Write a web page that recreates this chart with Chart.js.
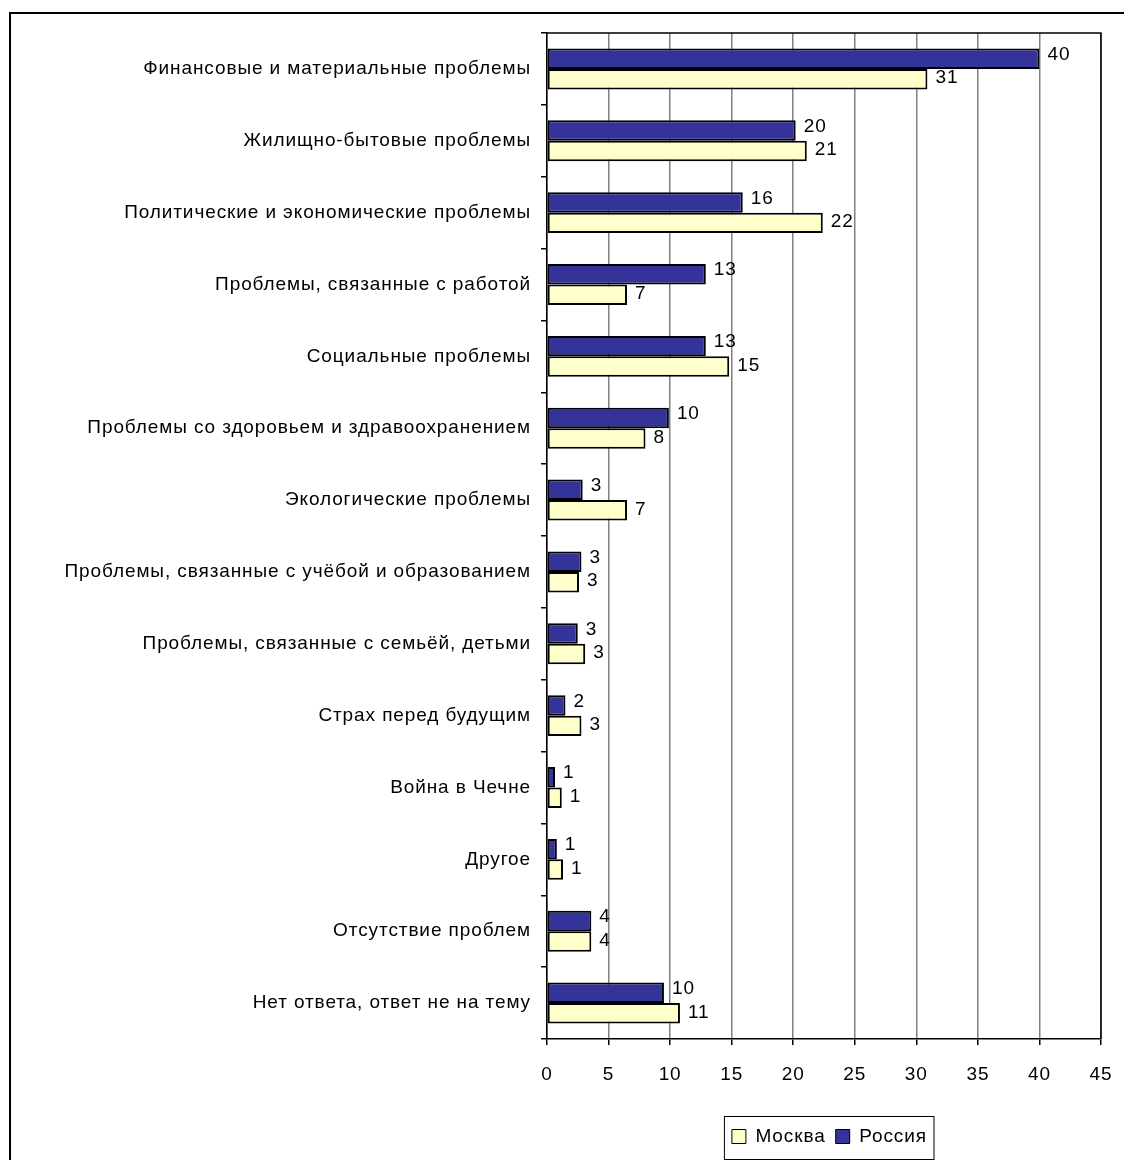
<!DOCTYPE html>
<html>
<head>
<meta charset="utf-8">
<script src="https://cdn.jsdelivr.net/npm/chart.js@4"></script>
<style>
    html, body { margin: 0; padding: 0; background: #fff; }
    #wrap { position: relative; width: 1124px; height: 1160px; }
</style>
</head>
<body>
<div id="wrap"><canvas id="chart" width="1124" height="1160"></canvas></div>
<script>
// DATOS
const categories = [
    "Финансовые и материальные проблемы",
    "Жилищно-бытовые проблемы",
    "Политические и экономические проблемы",
    "Проблемы, связанные с работой",
    "Социальные проблемы",
    "Проблемы со здоровьем и здравоохранением",
    "Экологические проблемы",
    "Проблемы, связанные с учёбой и образованием",
    "Проблемы, связанные с семьёй, детьми",
    "Страх перед будущим",
    "Война в Чечне",
    "Другое",
    "Отсутствие проблем",
    "Нет ответа, ответ не на тему"
];
const russia = [40.0, 20.2, 15.9, 12.9, 12.9, 9.9, 2.9, 2.8, 2.5, 1.5, 0.65, 0.8, 3.6, 9.5];
const moscow = [30.9, 21.1, 22.4, 6.5, 14.8, 8.0, 6.5, 2.6, 3.1, 2.8, 1.2, 1.3, 3.6, 10.8];
const xTicks = [0, 5, 10, 15, 20, 25, 30, 35, 40, 45];

const FONT = "'Liberation Sans', Arial, sans-serif";
const SPACING = 0.9;

// ESPACIADO DE LETRAS
const spacing = {
    id: 'spacing',
    beforeDraw(chart) {
        chart.ctx.letterSpacing = SPACING + 'px';
    }
};

// ETIQUETAS DE VALOR
const valueLabels = {
    id: 'valueLabels',
    afterDatasetsDraw(chart) {
        const ctx = chart.ctx;
        ctx.save();
        ctx.font = '19px ' + FONT;
        ctx.fillStyle = '#000';
        ctx.textAlign = 'left';
        ctx.textBaseline = 'middle';
        chart.data.datasets.forEach((ds, i) => {
            const dy = i === 0 ? -4 : -1;
            chart.getDatasetMeta(i).data.forEach((bar, j) => {
                ctx.fillText(Math.round(ds.data[j]), bar.x + 8, bar.y + dy);
            });
        });
        ctx.restore();
    }
};

// MARCOS
const frames = {
    id: 'frames',
    afterDraw(chart) {
        const ctx = chart.ctx;
        const a = chart.chartArea;
        ctx.save();
        ctx.strokeStyle = '#000';
        // marco exterior
        ctx.lineWidth = 2;
        ctx.beginPath();
        ctx.moveTo(10, 1160);
        ctx.lineTo(10, 13);
        ctx.lineTo(1124, 13);
        ctx.stroke();
        // borde del área
        ctx.lineWidth = 1.5;
        ctx.beginPath();
        ctx.moveTo(a.left, a.top);
        ctx.lineTo(a.right, a.top);
        ctx.lineTo(a.right, a.bottom);
        ctx.stroke();
        // caja de la leyenda
        const boxes = chart.legend.legendHitBoxes;
        if (boxes && boxes.length) {
            const last = boxes[boxes.length - 1];
            const l = boxes[0].left - 8;
            const r = last.left + last.width + 6 * SPACING + 12;
            ctx.lineWidth = 1;
            ctx.strokeRect(l + 0.5, 1116.5, r - l, 43);
        }
        ctx.restore();
    }
};

new Chart(document.getElementById('chart'), {
    type: 'bar',
    data: {
        labels: categories,
        datasets: [{
            label: 'Россия',
            data: russia,
            backgroundColor: '#333399',
            borderColor: '#000',
            borderWidth: 2,
            borderSkipped: false,
            categoryPercentage: 0.57,
            barPercentage: 1.0
        }, {
            label: 'Москва',
            data: moscow,
            backgroundColor: '#FFFFCC',
            borderColor: '#000',
            borderWidth: 2,
            borderSkipped: false,
            categoryPercentage: 0.57,
            barPercentage: 1.0
        }]
    },
    options: {
        indexAxis: 'y',
        responsive: false,
        animation: false,
        layout: {
            padding: { top: 33, right: 23, bottom: 4, left: 0 }
        },
        scales: {
            x: {
                min: 0,
                max: 45,
                afterBuildTicks: (scale) => { scale.ticks = xTicks.map(v => ({ value: v })); },
                afterFit: (scale) => {
                    scale.height = 78;
                    scale.paddingLeft = 0;
                    scale.paddingRight = 0;
                },
                ticks: {
                    color: '#000',
                    font: { size: 19, family: FONT },
                    padding: 18,
                    maxRotation: 0
                },
                grid: {
                    color: '#808080',
                    lineWidth: 1.5,
                    tickLength: 6,
                    tickColor: '#000'
                },
                border: { color: '#000', width: 1.5 }
            },
            y: {
                afterFit: (scale) => { scale.width = 547; },
                ticks: {
                    color: '#000',
                    font: { size: 19, family: FONT },
                    padding: 10
                },
                grid: {
                    drawOnChartArea: false,
                    tickLength: 6,
                    tickColor: '#000',
                    lineWidth: 1.5
                },
                border: { color: '#000', width: 1.5 }
            }
        },
        plugins: {
            legend: {
                position: 'bottom',
                fullSize: false,
                labels: {
                    color: '#000',
                    font: { size: 19, family: FONT },
                    boxWidth: 14,
                    boxHeight: 14,
                    padding: 10,
                    sort: (a, b) => b.datasetIndex - a.datasetIndex,
                    generateLabels: (chart) => chart.data.datasets.map((ds, i) => ({
                        text: ds.label,
                        fillStyle: ds.backgroundColor,
                        strokeStyle: '#000',
                        lineWidth: 1,
                        datasetIndex: i,
                        fontColor: '#000'
                    }))
                }
            },
            tooltip: { enabled: false }
        }
    },
    plugins: [spacing, valueLabels, frames]
});
</script>
</body>
</html>
